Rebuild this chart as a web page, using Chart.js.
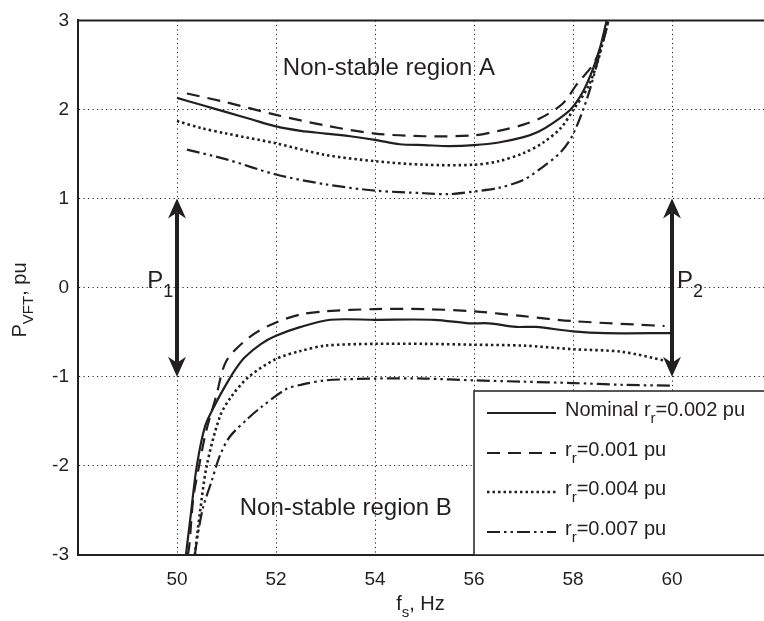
<!DOCTYPE html>
<html>
<head>
<meta charset="utf-8">
<script src="https://cdn.jsdelivr.net/npm/chart.js@4.4.0/dist/chart.umd.min.js"></script>
<style>
  html, body { margin: 0; padding: 0; background: #fff; overflow: hidden; }
  #wrap { width: 776px; height: 621px; }
</style>
</head>
<body>
<div id="wrap"><canvas id="vftChart"></canvas></div>
<script>
// eixo x (Hz) e ticks
const xTicks = [50, 52, 54, 56, 58, 60];
const yTicks = [-3, -2, -1, 0, 1, 2, 3];

// curva nominal rr=0.002 pu
const nomUpF = [50, 50.5, 51, 51.5, 52, 52.5, 53, 53.5, 54, 54.5, 55, 55.5, 56, 56.5, 57, 57.3, 57.6, 57.95, 58.2, 58.4, 58.55, 58.68];
const nomUpP = [2.13, 2.05, 1.97, 1.89, 1.81, 1.76, 1.73, 1.70, 1.66, 1.61, 1.60, 1.59, 1.60, 1.63, 1.69, 1.75, 1.85, 2.0, 2.2, 2.45, 2.7, 3.0];
const nomLoF = [50.18, 50.28, 50.4, 50.57, 50.8, 51.02, 51.2, 51.37, 51.7, 52, 52.5, 53.1, 54, 55.2, 55.9, 56.3, 56.85, 57.25, 58.0, 58.65, 60];
const nomLoP = [-3, -2.54, -2.0, -1.55, -1.28, -1.06, -0.9, -0.78, -0.63, -0.54, -0.44, -0.36, -0.36, -0.36, -0.40, -0.40, -0.44, -0.44, -0.49, -0.51, -0.51];

// rr=0.001 pu
const r1UpF = [50.2, 51, 52, 53, 54, 55, 56, 56.5, 57, 57.4, 57.8, 58.1, 58.4, 58.6, 58.72];
const r1UpP = [2.18, 2.08, 1.94, 1.82, 1.73, 1.70, 1.71, 1.76, 1.83, 1.92, 2.07, 2.30, 2.50, 2.75, 3.0];
const r1LoF = [50.22, 50.25, 50.33, 50.45, 50.58, 50.79, 51.0, 51.5, 52, 52.5, 53, 54, 55, 56, 57, 58, 59.85];
const r1LoP = [-3, -2.89, -2.36, -1.99, -1.63, -1.22, -0.82, -0.54, -0.39, -0.30, -0.265, -0.24, -0.24, -0.265, -0.32, -0.375, -0.43];

// rr=0.004 pu
const r4UpF = [50, 50.5, 51, 52, 53, 54, 55, 56, 56.5, 57, 57.4, 57.75, 58, 58.3, 58.5, 58.65, 58.72];
const r4UpP = [1.87, 1.79, 1.73, 1.62, 1.49, 1.42, 1.38, 1.38, 1.42, 1.51, 1.63, 1.79, 1.99, 2.25, 2.54, 2.87, 3.0];
const r4LoF = [50.36, 50.46, 50.6, 50.87, 51.1, 51.45, 52, 52.5, 53, 54, 55, 56, 57, 58, 59, 59.87];
const r4LoP = [-3, -2.54, -2.0, -1.44, -1.22, -1.0, -0.80, -0.71, -0.65, -0.63, -0.63, -0.64, -0.65, -0.69, -0.72, -0.82];

// rr=0.007 pu
const r7UpF = [50.2, 51, 52, 53, 54, 55, 55.5, 56, 56.5, 57, 57.4, 57.75, 58, 58.3, 58.55, 58.72];
const r7UpP = [1.55, 1.44, 1.27, 1.16, 1.09, 1.06, 1.05, 1.08, 1.12, 1.21, 1.36, 1.52, 1.72, 2.15, 2.65, 3.0];
const r7LoF = [50.36, 50.43, 50.53, 50.7, 50.87, 51.07, 51.41, 51.68, 52.2, 52.5, 53, 54, 55, 56, 57, 58, 59, 60];
const r7LoP = [-3, -2.74, -2.46, -2.17, -1.88, -1.67, -1.48, -1.35, -1.14, -1.09, -1.04, -1.02, -1.02, -1.04, -1.055, -1.07, -1.09, -1.10];

// setas P1 / P2: [f, P inicio, P fim]
const arrowP1 = [50, 1, -1];
const arrowP2 = [60, 1, -1];

const legendNames = ['Nominal r', 'r', 'r', 'r'];
const legendValues = ['=0.002 pu', '=0.001 pu', '=0.004 pu', '=0.007 pu'];

const FONT = '"Liberation Sans", Arial, Helvetica, sans-serif';
const INK = '#231f20';

const styles = [
    { dash: [], width: 2.2 },
    { dash: [13, 8], width: 2.2 },
    { dash: [2.5, 3], width: 2.6 },
    { dash: [13, 4, 2.5, 4, 2.5, 4], width: 2.2 }
];

function pts(fs, ps) {
    return fs.map((f, i) => ({ x: f, y: ps[i] }));
}

function mkSet(fs, ps, st) {
    return {
        data: pts(fs, ps),
        borderColor: INK,
        borderWidth: st.width,
        borderDash: st.dash,
        pointRadius: 0,
        tension: 0.3,
        fill: false,
        clip: 0
    };
}

const datasets = [
    mkSet(nomUpF, nomUpP, styles[0]), mkSet(nomLoF, nomLoP, styles[0]),
    mkSet(r1UpF, r1UpP, styles[1]), mkSet(r1LoF, r1LoP, styles[1]),
    mkSet(r4UpF, r4UpP, styles[2]), mkSet(r4LoF, r4LoP, styles[2]),
    mkSet(r7UpF, r7UpP, styles[3]), mkSet(r7LoF, r7LoP, styles[3])
];

// texto com subscrito: partes [texto, subscrito?]
function drawParts(ctx, parts, x, y, size, align) {
    const subSize = Math.round(size * 0.74);
    let total = 0;
    parts.forEach(p => {
        ctx.font = (p[1] ? subSize : size) + 'px ' + FONT;
        total += ctx.measureText(p[0]).width;
    });
    let cx = align === 'center' ? x - total / 2 : x;
    ctx.textAlign = 'left';
    ctx.textBaseline = 'middle';
    parts.forEach(p => {
        ctx.font = (p[1] ? subSize : size) + 'px ' + FONT;
        ctx.fillText(p[0], cx, p[1] ? y + size * 0.45 : y);
        cx += ctx.measureText(p[0]).width;
    });
}

function drawArrow(ctx, xs, ys, a) {
    const x = xs.getPixelForValue(a[0]);
    const y1 = ys.getPixelForValue(a[1]);
    const y2 = ys.getPixelForValue(a[2]);
    ctx.save();
    ctx.strokeStyle = INK;
    ctx.fillStyle = INK;
    ctx.lineWidth = 4;
    ctx.beginPath();
    ctx.moveTo(x, y1 + 14);
    ctx.lineTo(x, y2 - 14);
    ctx.stroke();
    [[y1, 1], [y2, -1]].forEach(h => {
        const t = h[0], d = h[1];
        ctx.beginPath();
        ctx.moveTo(x, t);
        ctx.lineTo(x + 9, t + 20 * d);
        ctx.lineTo(x, t + 14 * d);
        ctx.lineTo(x - 9, t + 20 * d);
        ctx.closePath();
        ctx.fill();
    });
    ctx.restore();
}

const decorPlugin = {
    id: 'decor',
    afterDatasetsDraw(chart) {
        const ctx = chart.ctx;
        const area = chart.chartArea;
        const xs = chart.scales.x;
        const ys = chart.scales.y;

        ctx.save();
        // borda superior
        ctx.strokeStyle = INK;
        ctx.lineWidth = 2;
        ctx.beginPath();
        ctx.moveTo(area.left, area.top);
        ctx.lineTo(area.right + 2, area.top);
        ctx.stroke();

        drawArrow(ctx, xs, ys, arrowP1);
        drawArrow(ctx, xs, ys, arrowP2);

        ctx.fillStyle = INK;
        drawParts(ctx, [['P', false], ['1', true]], xs.getPixelForValue(49.4), ys.getPixelForValue(0.07), 24, 'left');
        drawParts(ctx, [['P', false], ['2', true]], xs.getPixelForValue(60.1), ys.getPixelForValue(0.07), 24, 'left');

        drawParts(ctx, [['Non-stable region A', false]], xs.getPixelForValue(54.28), ys.getPixelForValue(2.46), 24, 'center');
        drawParts(ctx, [['Non-stable region B', false]], xs.getPixelForValue(53.41), ys.getPixelForValue(-2.48), 24, 'center');

        // legenda
        const lx = 474, ly = 391;
        ctx.fillStyle = '#fff';
        ctx.fillRect(lx, ly, area.right - lx, area.bottom - ly);
        ctx.strokeStyle = INK;
        ctx.lineWidth = 1.5;
        ctx.strokeRect(lx, ly, area.right - lx + 3, area.bottom - ly);
        const rows = [413, 453, 492, 532];
        rows.forEach((ry, i) => {
            ctx.strokeStyle = INK;
            ctx.lineWidth = styles[i].width;
            ctx.setLineDash(styles[i].dash);
            ctx.beginPath();
            ctx.moveTo(487, ry);
            ctx.lineTo(556, ry);
            ctx.stroke();
            ctx.setLineDash([]);
            ctx.fillStyle = INK;
            drawParts(ctx, [[legendNames[i], false], ['r', true], [legendValues[i], false]], 565, ry - 3, 20, 'left');
        });

        // titulos dos eixos
        ctx.fillStyle = INK;
        drawParts(ctx, [['f', false], ['s', true], [', Hz', false]], (area.left + area.right) / 2 - 4, 604, 20, 'center');
        ctx.translate(20, 300);
        ctx.rotate(-Math.PI / 2);
        drawParts(ctx, [['P', false], ['VFT', true], [', pu', false]], 0, 0, 20, 'center');
        ctx.restore();
    }
};

const ctx = document.getElementById('vftChart').getContext('2d');
const vftChart = new Chart(ctx, {
    type: 'line',
    data: { datasets: datasets },
    options: {
        responsive: true,
        maintainAspectRatio: false,
        animation: false,
        layout: { padding: { top: 8, right: 5, left: 0, bottom: 0 } },
        plugins: {
            legend: { display: false },
            tooltip: { enabled: false }
        },
        scales: {
            x: {
                type: 'linear',
                min: 48,
                max: 62,
                afterBuildTicks: scale => { scale.ticks = xTicks.map(v => ({ value: v })); },
                afterFit: scale => { scale.height = 66; },
                ticks: {
                    color: INK,
                    padding: 13,
                    maxRotation: 0,
                    font: { family: FONT, size: 19 }
                },
                grid: { color: '#222', lineWidth: 1, drawTicks: false },
                border: { display: true, color: INK, width: 2, dash: [1.2, 3.3] }
            },
            y: {
                type: 'linear',
                min: -3,
                max: 3,
                afterBuildTicks: scale => { scale.ticks = yTicks.map(v => ({ value: v })); },
                afterFit: scale => { scale.width = 78; },
                ticks: {
                    color: INK,
                    padding: 9,
                    font: { family: FONT, size: 19 }
                },
                grid: { color: '#222', lineWidth: 1, drawTicks: false },
                border: { display: true, color: INK, width: 2, dash: [1.2, 3.3] }
            }
        }
    },
    plugins: [decorPlugin]
});
</script>
</body>
</html>
